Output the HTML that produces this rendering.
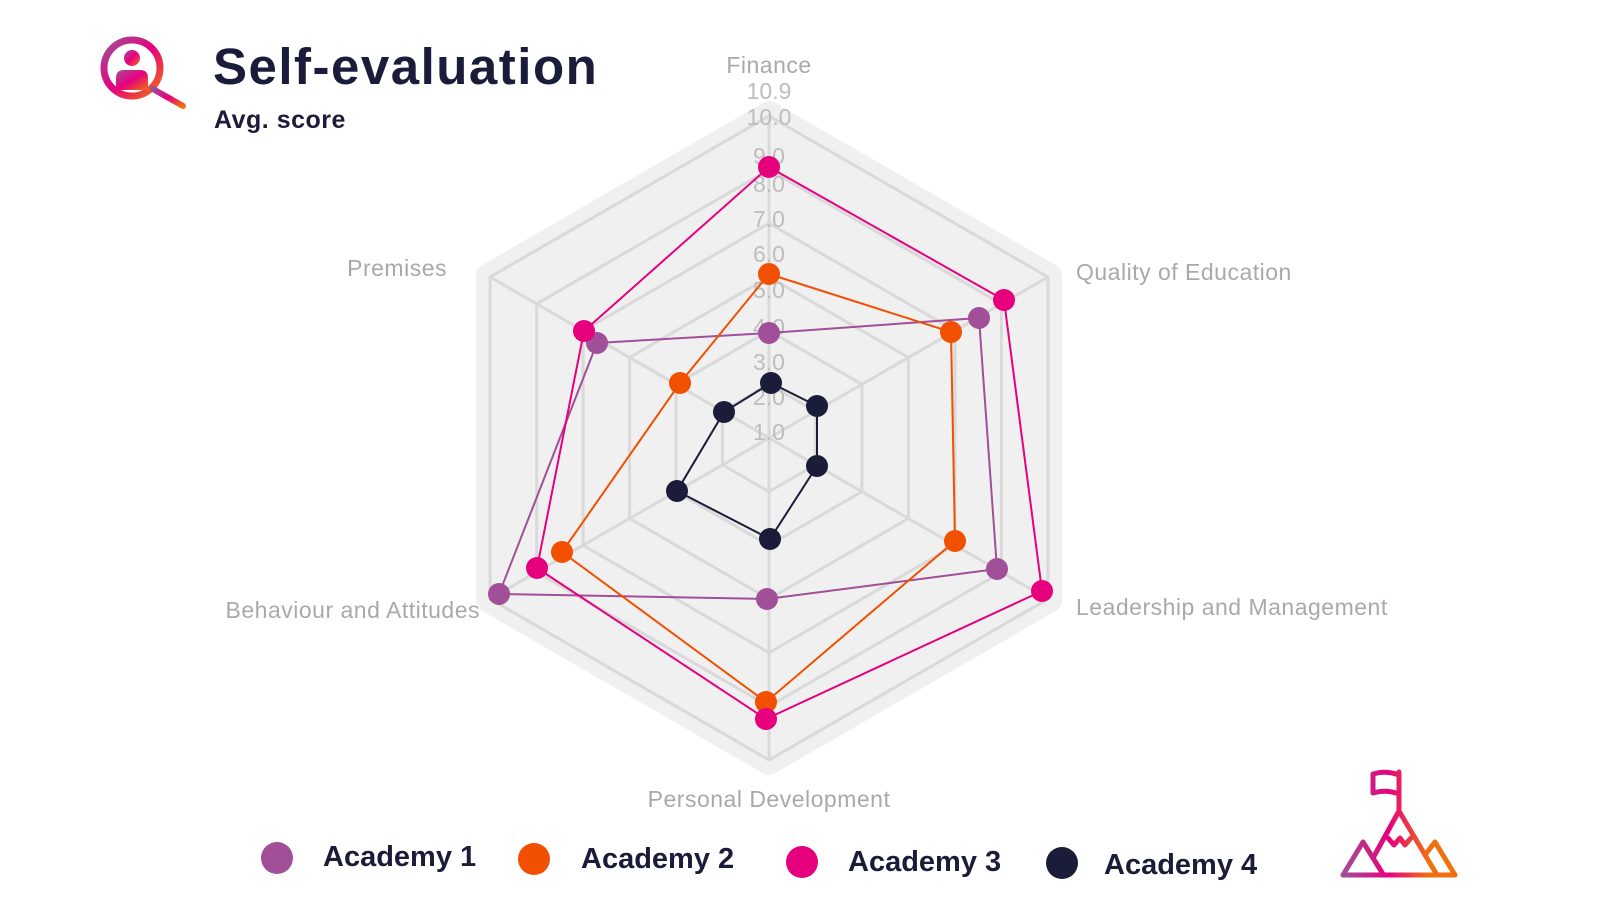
<!DOCTYPE html>
<html><head><meta charset="utf-8"><style>
html,body{margin:0;padding:0;background:#fff;width:1600px;height:900px;overflow:hidden}
svg{display:block}
</style></head><body>
<svg width="1600" height="900" viewBox="0 0 1600 900" xmlns="http://www.w3.org/2000/svg">
<defs>
<linearGradient id="g1" x1="0" y1="0" x2="1" y2="1"><stop offset="0" stop-color="#a04f98"/><stop offset="0.5" stop-color="#e6007e"/><stop offset="1" stop-color="#f07010"/></linearGradient>
<linearGradient id="g2" gradientUnits="userSpaceOnUse" x1="1343" y1="0" x2="1457" y2="0"><stop offset="0" stop-color="#a04f98"/><stop offset="0.4" stop-color="#e6007e"/><stop offset="0.75" stop-color="#f07010"/><stop offset="1" stop-color="#f07010"/></linearGradient>
</defs>
<polygon points="769,112 1051,275 1051,601 769,764 487,601 487,275" fill="#f0f0f0" stroke="#f0f0f0" stroke-width="22" stroke-linejoin="round"/>
<g fill="none" stroke="#d9d9d9" stroke-width="3">
<polygon points="769,384.3 815.5,411.2 815.5,464.8 769,491.7 722.5,464.8 722.5,411.2"/>
<polygon points="769,330.7 861.9,384.3 861.9,491.7 769,545.3 676.1,491.7 676.1,384.3"/>
<polygon points="769,277 908.4,357.5 908.4,518.5 769,599 629.6,518.5 629.6,357.5"/>
<polygon points="769,223.3 954.9,330.7 954.9,545.3 769,652.7 583.1,545.3 583.1,330.7"/>
<polygon points="769,169.7 1001.3,303.8 1001.3,572.2 769,706.3 536.7,572.2 536.7,303.8"/>
<polygon points="769,116 1047.9,277 1047.9,599 769,760 490.1,599 490.1,277"/>
<line x1="769" y1="438" x2="769" y2="116"/><line x1="769" y1="438" x2="1047.9" y2="277"/>
<line x1="769" y1="438" x2="1047.9" y2="599"/><line x1="769" y1="438" x2="769" y2="760"/>
<line x1="769" y1="438" x2="490.1" y2="599"/><line x1="769" y1="438" x2="490.1" y2="277"/>
</g>
<g font-family="Liberation Sans, sans-serif" font-size="23" fill="#bdbdbd" text-anchor="middle">
<text x="769" y="99">10.9</text><text x="769" y="125">10.0</text><text x="769" y="164">9.0</text>
<text x="769" y="192">8.0</text><text x="769" y="227">7.0</text><text x="769" y="262">6.0</text>
<text x="769" y="298">5.0</text><text x="769" y="335">4.0</text><text x="769" y="370">3.0</text>
<text x="769" y="405">2.0</text><text x="769" y="440">1.0</text>
</g>
<g font-family="Liberation Sans, sans-serif" font-size="23" fill="#a9a9a9" letter-spacing="0.5">
<text x="769" y="73" text-anchor="middle">Finance</text>
<text x="1076" y="280">Quality of Education</text>
<text x="1076" y="615">Leadership and Management</text>
<text x="769" y="807" text-anchor="middle">Personal Development</text>
<text x="480" y="618" text-anchor="end">Behaviour and Attitudes</text>
<text x="447" y="276" text-anchor="end">Premises</text>
</g>
<g stroke-width="2" fill="none">
<polygon stroke="#a04f98" points="769,333 979,318 997,569 767,599 499,594 597,343"/>
<polygon stroke="#f05000" points="769,274 951,332 955,541 766,702 562,552 680,383"/>
<polygon stroke="#e6007e" points="769,167 1004,300 1042,591 766,719 537,568 584,331"/>
<polygon stroke="#1b1b3a" points="771,383 817,406 817,466 770,539 677,491 724,412"/>
</g>
<g fill="#a04f98"><circle cx="769" cy="333" r="11"/><circle cx="979" cy="318" r="11"/><circle cx="997" cy="569" r="11"/><circle cx="767" cy="599" r="11"/><circle cx="499" cy="594" r="11"/><circle cx="597" cy="343" r="11"/></g>
<g fill="#f05000"><circle cx="769" cy="274" r="11"/><circle cx="951" cy="332" r="11"/><circle cx="955" cy="541" r="11"/><circle cx="766" cy="702" r="11"/><circle cx="562" cy="552" r="11"/><circle cx="680" cy="383" r="11"/></g>
<g fill="#e6007e"><circle cx="769" cy="167" r="11"/><circle cx="1004" cy="300" r="11"/><circle cx="1042" cy="591" r="11"/><circle cx="766" cy="719" r="11"/><circle cx="537" cy="568" r="11"/><circle cx="584" cy="331" r="11"/></g>
<g fill="#1b1b3a"><circle cx="771" cy="383" r="11"/><circle cx="817" cy="406" r="11"/><circle cx="817" cy="466" r="11"/><circle cx="770" cy="539" r="11"/><circle cx="677" cy="491" r="11"/><circle cx="724" cy="412" r="11"/></g>
<text x="213" y="84" font-family="Liberation Sans, sans-serif" font-weight="bold" font-size="51" fill="#1b1b3a" letter-spacing="1.5">Self-evaluation</text>
<text x="214" y="128" font-family="Liberation Sans, sans-serif" font-weight="bold" font-size="25" fill="#1b1b3a" letter-spacing="0.5">Avg. score</text>
<circle cx="132" cy="68" r="28" fill="none" stroke="url(#g1)" stroke-width="7"/>
<circle cx="132" cy="58" r="8" fill="url(#g1)"/>
<path d="M116 90 L116 78 Q116 70 124 70 L140 70 Q148 70 148 78 L148 90 Z" fill="url(#g1)"/>
<line x1="153" y1="89" x2="183" y2="106" stroke="url(#g1)" stroke-width="6" stroke-linecap="round"/>
<g font-family="Liberation Sans, sans-serif" font-weight="bold" font-size="29" fill="#1b1b3a">
<circle cx="277" cy="858" r="16" fill="#a04f98"/><text x="323" y="866">Academy 1</text>
<circle cx="534" cy="859" r="16" fill="#f05000"/><text x="581" y="868">Academy 2</text>
<circle cx="802" cy="862" r="16" fill="#e6007e"/><text x="848" y="871">Academy 3</text>
<circle cx="1062" cy="863" r="16" fill="#1b1b3a"/><text x="1104" y="874">Academy 4</text>
</g>
<g fill="none" stroke="url(#g2)" stroke-width="5" stroke-linejoin="round" stroke-linecap="round">
<path d="M1343 875 L1455 875"/>
<path d="M1343 875 L1363 842 L1383 874"/>
<path d="M1373 858 L1399 811 L1437 875"/>
<path d="M1425 855 L1435 842 L1455 875"/>
<path d="M1388 838 L1394 845 L1400 838 L1405 845 L1411 838"/>
<path d="M1399 811 L1399 772"/>
<path d="M1399 775 Q1386 770 1373 774 L1373 793 Q1386 789 1399 794"/>
</g>
</svg>
</body></html>
